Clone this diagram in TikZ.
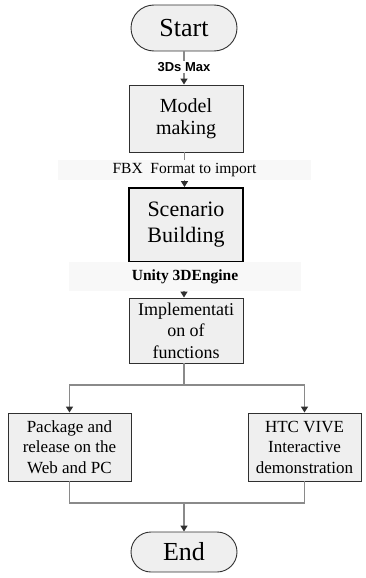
\documentclass[tikz,border=0pt]{standalone}
\usepackage{fontspec}
\setmainfont{Liberation Serif}
\setsansfont{Liberation Sans}
\usepackage{xcolor}
\usepackage{tikz}
\usetikzlibrary{arrows.meta}

\definecolor{boxfill}{HTML}{EFEFEF}
\definecolor{boxline}{HTML}{303030}
\definecolor{wire}{HTML}{8A8A8A}
\definecolor{bandfill}{HTML}{F8F8F8}

\tikzset{
  terminal/.style={draw=boxline,fill=boxfill,line width=0.9pt,minimum width=106pt,inner sep=0pt,font=\fontsize{26}{28}\selectfont},
  procbox/.style={draw=boxline,fill=boxfill,line width=0.9pt,inner sep=0pt,align=center},
  band/.style={fill=bandfill,inner sep=0pt},
  wire/.style={draw=wire,line width=1.4pt},
  wirearrow/.style={wire,-{Triangle[width=7pt,length=6pt,color=boxline]}}
}

\begin{document}
\begin{tikzpicture}[x=1pt,y=-1pt]
    \useasboundingbox (0,0) rectangle (365,578);
    % Terminals
    \node[terminal,minimum height=46pt,rounded corners=23pt] (start) at (184,28) {Start};
    \node[terminal,minimum height=40pt,rounded corners=20pt] (end) at (184,552) {End};
    % Process boxes
    \node[procbox,minimum width=114pt,minimum height=67pt,font=\fontsize{20}{22}\selectfont] (model) at (186,118.5) {Model\\making};
    \node[procbox,minimum width=114pt,minimum height=74pt,line width=1.8pt,draw=black,font=\fontsize{22}{26}\selectfont] (scen) at (186,225) {Scenario\\Building};
    \node[procbox,minimum width=114pt,minimum height=65pt,font=\fontsize{18}{21.5}\selectfont] (impl) at (186,330.5) {Implementati\\on of\\functions};
    \node[procbox,minimum width=123pt,minimum height=68pt,font=\fontsize{17}{20.5}\selectfont] (pkg) at (69.5,447) {Package and\\release on the\\Web and PC};
    \node[procbox,minimum width=113pt,minimum height=68pt,font=\fontsize{17}{20.5}\selectfont] (htc) at (304.5,447) {HTC VIVE\\Interactive\\demonstration};
    % Tool labels
    \node[fill=white,inner sep=1pt,font=\sffamily\bfseries\fontsize{13}{15}\selectfont] (max) at (184,67) {3Ds Max};
    \node[band,minimum width=253pt,minimum height=20pt,font=\fontsize{15.5}{17}\selectfont] (fbx) at (184.5,170) {FBX\ \ Format to import};
    \node[band,minimum width=232pt,minimum height=29pt,font=\bfseries\fontsize{15.5}{17}\selectfont] (unity) at (185,276.5) {Unity 3DEngine};
    % Connectors
    \coordinate (split) at (184,385);
    \coordinate (merge) at (184,503);
    \draw[wire] (start) -- (max);
    \draw[wirearrow] (max) -- (max |- model.north);
    \draw[wire] (model.south -| fbx) -- (fbx);
    \draw[wirearrow] (fbx) -- (fbx |- scen.north);
    \draw[wirearrow] (unity.south -| split) -- (split |- impl.north);
    \draw[wire] (split |- impl.south) -- (split);
    \draw[wirearrow] (split) -| (pkg);
    \draw[wirearrow] (split) -| (htc);
    \draw[wire] (pkg) |- (merge);
    \draw[wire] (htc) |- (merge);
    \draw[wirearrow] (merge) -- (end);
\end{tikzpicture}
\end{document}
